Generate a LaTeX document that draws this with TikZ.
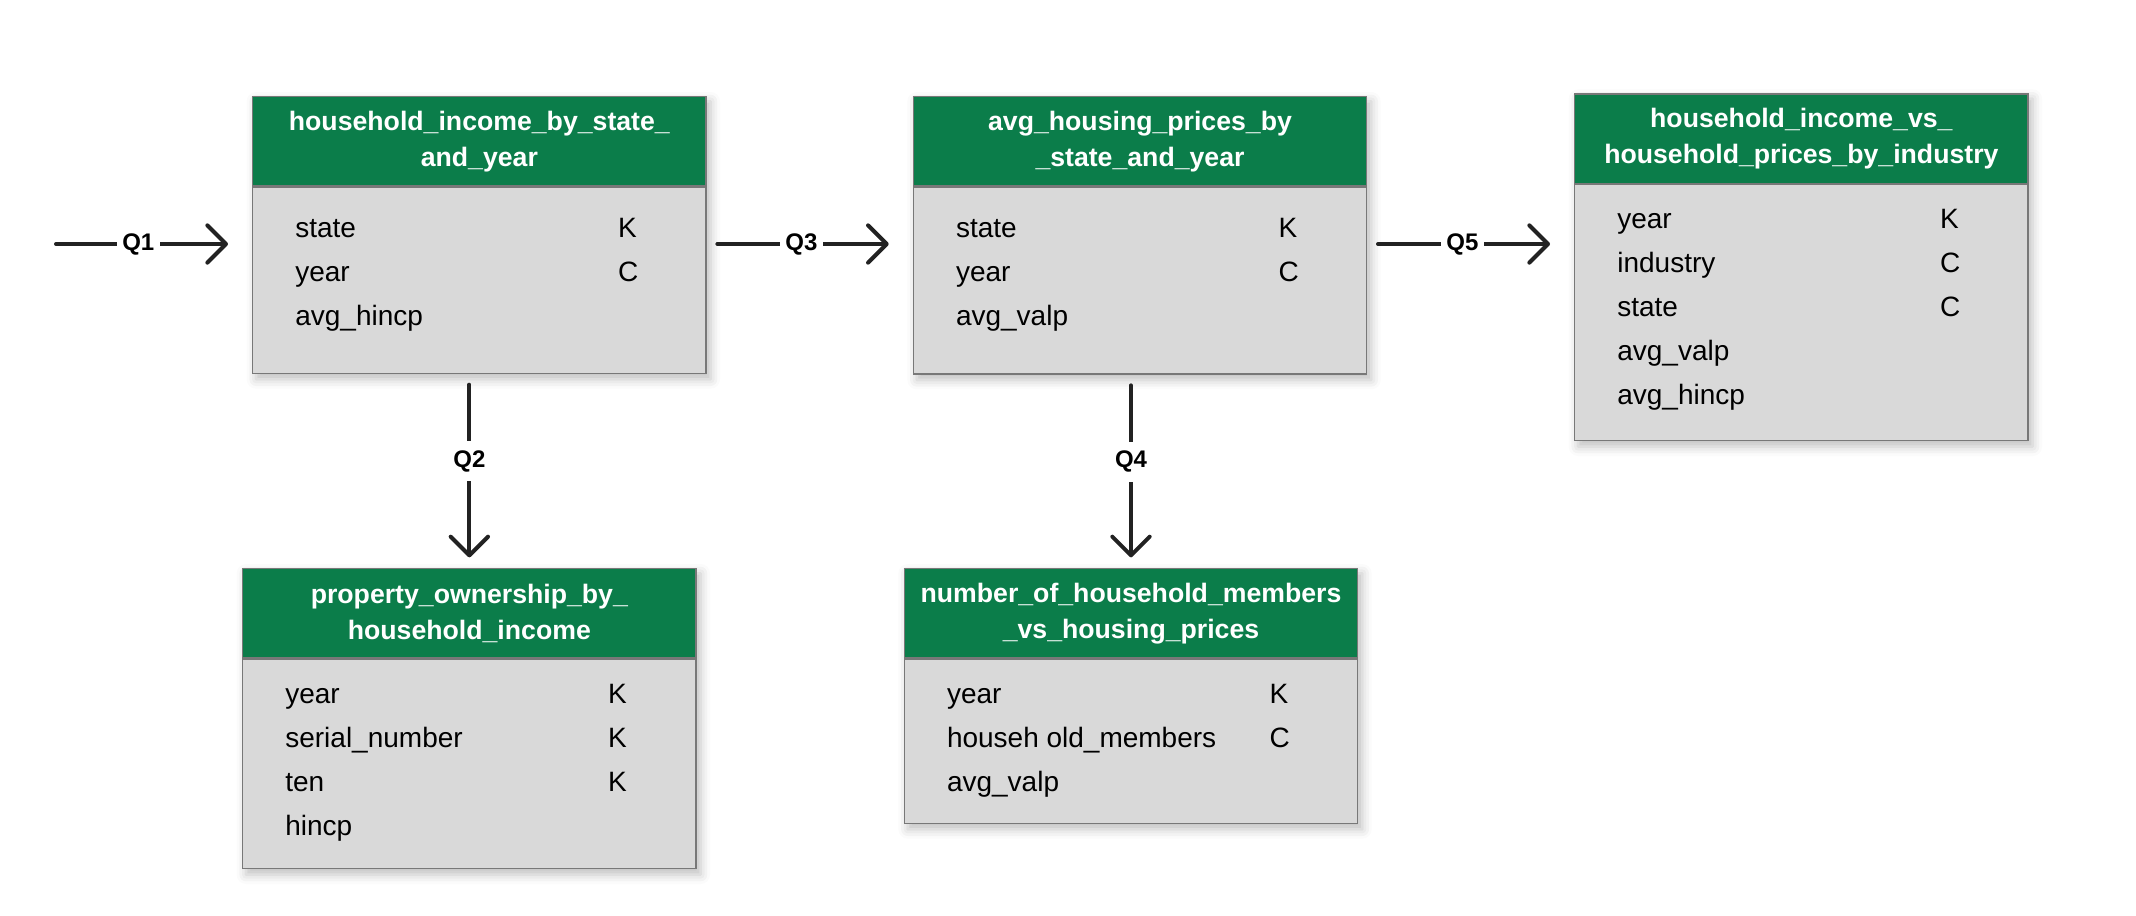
\documentclass[tikz,border=0pt]{standalone}
\usepackage{fontspec}
\setmainfont{Liberation Sans}
\usetikzlibrary{positioning,arrows.meta,fit,backgrounds,shadows.blur}

\definecolor{hdrgreen}{RGB}{11,125,74}
\definecolor{bodygray}{RGB}{217,217,217}
\definecolor{edgegray}{RGB}{120,120,120}
\definecolor{inkdark}{RGB}{34,34,34}

\newcommand{\fieldrows}[1]{\begin{tabular}[t]{@{}p{242pt}@{}p{34pt}@{}}#1\end{tabular}}

\begin{document}
\begin{tikzpicture}[
    header/.style={rectangle, draw=edgegray, line width=1pt, fill=hdrgreen, text=white, minimum width=340pt, minimum height=67pt, inner sep=0pt, align=center, font=\fontsize{20}{27}\selectfont\bfseries},
    fields/.style={rectangle, draw=edgegray, line width=1pt, fill=bodygray, minimum width=340pt, inner xsep=32pt, inner ysep=0pt, font=\fontsize{21}{33}\selectfont},
    tableshadow/.style={inner sep=0pt, blur shadow={shadow xshift=3pt, shadow yshift=-4pt, shadow blur radius=7pt, shadow opacity=25}},
    flow/.style={-{Straight Barb[length=14pt, width=28pt, round]}, line width=3pt, color=inkdark, line cap=round},
    qlabel/.style={fill=white, text=black, inner xsep=4pt, inner ysep=7pt, pos=0.46, font=\fontsize{18}{18}\selectfont\bfseries}
]
\useasboundingbox (0,0) rectangle (1602pt,-686.25pt);

% Top row - source tables
\node[header, anchor=north west] (incomeT) at (189pt,-72pt) {household\_income\_by\_state\_\\and\_year};
\node[fields, below=0pt of incomeT, text height=37.5pt, text depth=102pt] (income) {\fieldrows{state & K\\ year & C\\ avg\_hincp &}};

\node[header, right=154.5pt of incomeT] (pricesT) {avg\_housing\_prices\_by\\\_state\_and\_year};
\node[fields, below=0pt of pricesT, text height=37.5pt, text depth=102.5pt] (prices) {\fieldrows{state & K\\ year & C\\ avg\_valp &}};

\node[header, right=155pt of pricesT, yshift=2pt] (industryT) {household\_income\_vs\_\\household\_prices\_by\_industry};
\node[fields, below=0pt of industryT, text height=33pt, text depth=159pt] (industry) {\fieldrows{year & K\\ industry & C\\ state & C\\ avg\_valp &\\ avg\_hincp &}};

% Bottom row - derived tables
\node[header, anchor=north west] (ownershipT) at ([xshift=-7.5pt, yshift=-145.5pt]income.south west) {property\_ownership\_by\_\\household\_income};
\node[fields, below=0pt of ownershipT, text height=33pt, text depth=124pt] (ownership) {\fieldrows{year & K\\ serial\_number & K\\ ten & K\\ hincp &}};

\node[header, right=155.25pt of ownershipT] (membersT) {number\_of\_household\_members\\\_vs\_housing\_prices};
\node[fields, below=0pt of membersT, text height=33pt, text depth=90pt] (members) {\fieldrows{year & K\\ househ old\_members & C\\ avg\_valp &}};

% Shadows behind each table
\begin{scope}[on background layer]
    \foreach \t in {income,prices,industry,ownership,members}
        \node[fit=(\t T)(\t), tableshadow] {};
\end{scope}

% Query arrows
\coordinate (start) at (42pt,-183pt);
\draw[flow, shorten >=18pt] (start) -- node[qlabel, pos=0.42] {Q1} (start -| incomeT.west);
\draw[flow, shorten <=8pt, shorten >=18pt] (start -| income.east) -- node[qlabel] {Q3} (start -| prices.west);
\draw[flow, shorten <=8pt, shorten >=18pt] (start -| prices.east) -- node[qlabel] {Q5} (start -| industry.west);
\draw[flow, shorten <=8pt, shorten >=8pt] (ownershipT.north |- income.south) -- node[qlabel, pos=0.45] {Q2} (ownershipT.north);
\draw[flow, shorten <=8pt, shorten >=8pt] (membersT.north |- prices.south) -- node[qlabel, pos=0.45] {Q4} (membersT.north);

\end{tikzpicture}
\end{document}
